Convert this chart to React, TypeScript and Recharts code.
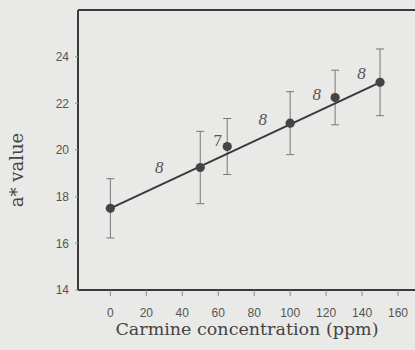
import React from 'react';
import { ScatterChart, Scatter, XAxis, YAxis, ErrorBar, ReferenceLine, Label } from 'recharts';

// carmine concentration (ppm) and mean a* value with its spread
const concentration = [0, 50, 65, 100, 125, 150];
const aValue = [17.5, 19.25, 20.15, 21.15, 22.25, 22.9];
const spread = [1.27, 1.55, 1.2, 1.35, 1.17, 1.43];

// sample counts written between neighbouring points
const sampleCounts = ['8', '7', '8', '8', '8'];

// regression line ends
const fitX = [0, 150];
const fitY = [17.5, 22.9];

const xTicks = [0, 20, 40, 60, 80, 100, 120, 140, 160];
const yTicks = [14, 16, 18, 20, 22, 24];

const points = concentration.map((c, i) => ({ x: c, y: aValue[i], err: spread[i] }));
const fitLine = fitX.map((x, i) => ({ x, y: fitY[i] }));

const fitAt = (x: number) => fitY[0] + ((fitY[1] - fitY[0]) * (x - fitX[0])) / (fitX[1] - fitX[0]);
const countMarks = sampleCounts.map((n, i) => {
  const mx = (concentration[i] + concentration[i + 1]) / 2;
  return { x: mx, y: fitAt(mx), n };
});

const ink = '#3a3a3a';
const serif = '"DejaVu Serif", "Liberation Serif", serif';
const sans = '"Liberation Sans", Arial, sans-serif';

const Dot = (p: any) => <circle cx={p.cx} cy={p.cy} r={4.6} fill="#444" />;
const NoDot = () => <g />;
const CountText = (p: any) => (
  <text
    x={p.cx + 4}
    y={p.cy - 14}
    textAnchor="middle"
    fontFamily={'"Liberation Serif", serif'}
    fontStyle={p.payload.n === '7' ? 'normal' : 'italic'}
    fontSize={17}
    fill="#555"
  >
    {p.payload.n}
  </text>
);

export default function App() {
  return (
    <div
      style={{
        position: 'absolute',
        left: 0,
        top: 0,
        width: 415,
        height: 350,
        overflow: 'hidden',
        background: '#e9e9e7',
      }}
    >
      <ScatterChart width={440} height={350} margin={{ top: 10, right: 6, bottom: 0, left: 0 }}>
        <XAxis
          type="number"
          dataKey="x"
          domain={[-18, 180]}
          ticks={xTicks}
          allowDataOverflow
          height={60}
          axisLine={{ stroke: ink, strokeWidth: 2 }}
          tickLine={{ stroke: '#888' }}
          tickSize={6}
          tickMargin={12}
          tick={{ fill: '#555', fontSize: 12, fontFamily: sans }}
        >
          <Label
            content={() => (
              <text x={247} y={335} textAnchor="middle" fontFamily={serif} fontSize={17.5} fill="#444">
                Carmine concentration (ppm)
              </text>
            )}
          />
        </XAxis>
        <YAxis
          type="number"
          dataKey="y"
          domain={[14, 26]}
          ticks={yTicks}
          allowDataOverflow
          width={78}
          axisLine={{ stroke: ink, strokeWidth: 2 }}
          tickLine={{ stroke: '#999' }}
          tickSize={3}
          tickMargin={6}
          tick={{ fill: '#555', fontSize: 12, fontFamily: sans }}
        >
          <Label
            content={() => (
              <text
                x={23}
                y={170}
                textAnchor="middle"
                transform="rotate(-90 23 170)"
                fontFamily={serif}
                fontSize={18}
                fill="#444"
              >
                a* value
              </text>
            )}
          />
        </YAxis>
        <ReferenceLine y={26} stroke={ink} strokeWidth={2} />
        <Scatter data={points} shape={NoDot} isAnimationActive={false}>
          <ErrorBar dataKey="err" direction="y" width={4} stroke="#777" strokeWidth={1} />
        </Scatter>
        <Scatter
          data={fitLine}
          line={{ stroke: ink, strokeWidth: 2 }}
          shape={NoDot}
          isAnimationActive={false}
        />
        <Scatter data={points} shape={Dot} isAnimationActive={false} />
        <Scatter data={countMarks} shape={CountText} isAnimationActive={false} />
      </ScatterChart>
    </div>
  );
}
